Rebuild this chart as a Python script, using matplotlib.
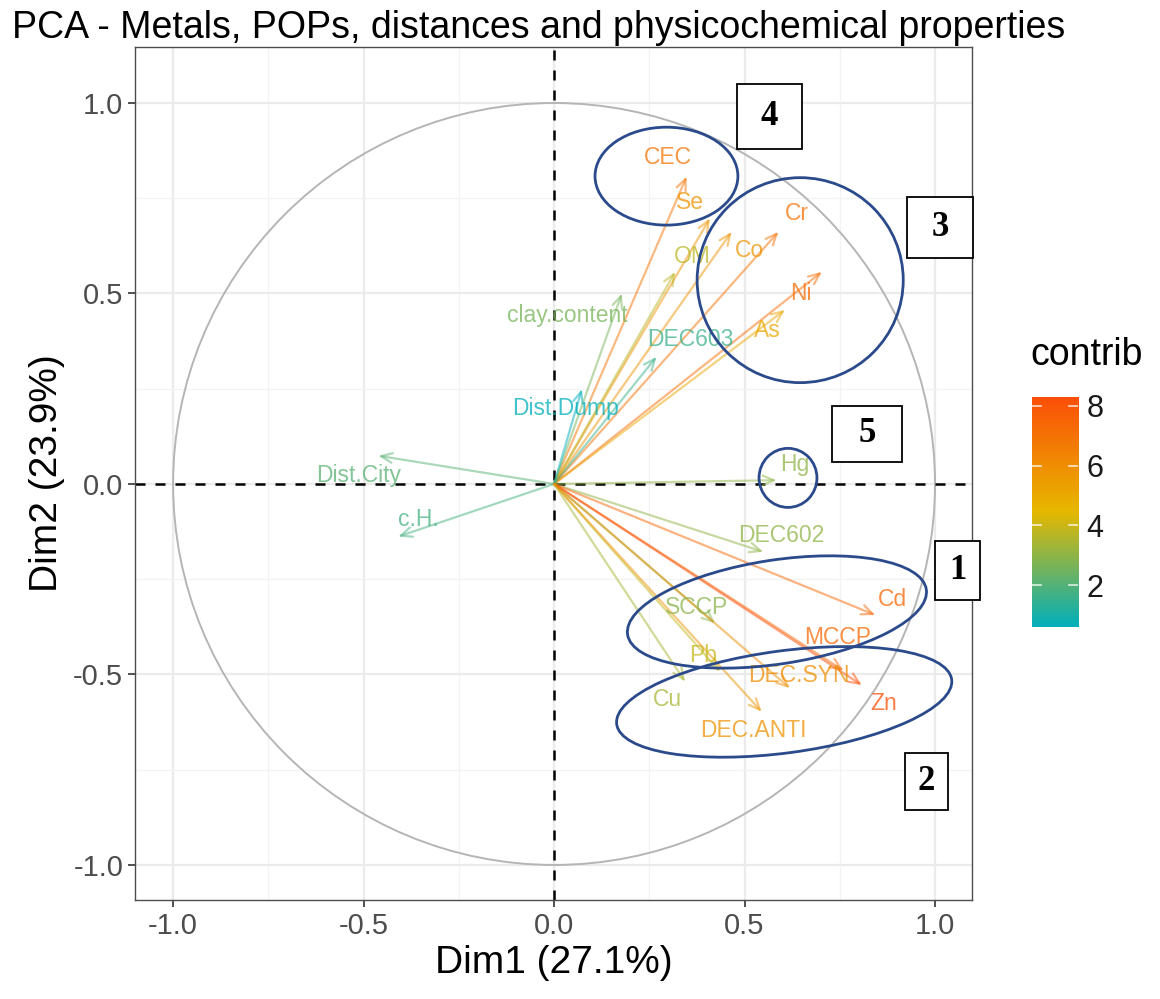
import matplotlib
matplotlib.use("Agg")
import matplotlib.pyplot as plt
from matplotlib.colors import LinearSegmentedColormap, Normalize
from matplotlib.patches import Circle, Ellipse, Rectangle
import numpy as np

plt.rcParams["font.family"] = ["Liberation Sans", "DejaVu Sans"]

# variable coordinates on Dim1 / Dim2 and their contribution (%)
variables = ["CEC", "Se", "OM", "Co", "Cr", "Ni", "As", "clay.content", "DEC603",
             "Dist.Dump", "Dist.City", "c.H.", "Hg", "DEC602", "Cd", "SCCP",
             "MCCP", "Pb", "DEC.SYN", "Zn", "Cu", "DEC.ANTI"]
dim1 = [0.348, 0.409, 0.318, 0.466, 0.589, 0.703, 0.606, 0.178, 0.269,
        0.073, -0.461, -0.409, 0.584, 0.549, 0.843, 0.423,
        0.760, 0.436, 0.619, 0.808, 0.344, 0.545]
dim2 = [0.807, 0.697, 0.557, 0.662, 0.662, 0.557, 0.457, 0.500, 0.334,
        0.249, 0.074, -0.138, 0.010, -0.178, -0.344, -0.366,
        -0.490, -0.493, -0.536, -0.528, -0.519, -0.598]
contrib = [6.9, 5.8, 3.7, 5.8, 7.0, 7.2, 5.1, 2.6, 1.6,
           0.6, 2.1, 1.8, 3.0, 3.0, 7.4, 2.9,
           7.3, 3.9, 6.0, 8.3, 3.4, 5.8]

# where the repelled labels ended up
label_pos = {
    "CEC": (0.299, 0.856), "Se": (0.357, 0.738), "OM": (0.362, 0.598),
    "Co": (0.512, 0.612), "Cr": (0.638, 0.709), "Ni": (0.648, 0.501),
    "As": (0.559, 0.402), "clay.content": (0.034, 0.441), "DEC603": (0.357, 0.378),
    "Dist.Dump": (0.029, 0.199), "Dist.City": (-0.514, 0.021), "c.H.": (-0.357, -0.092),
    "Hg": (0.633, 0.052), "DEC602": (0.596, -0.134), "Cd": (0.887, -0.304),
    "SCCP": (0.375, -0.323), "MCCP": (0.745, -0.402), "Pb": (0.391, -0.451),
    "DEC.SYN": (0.643, -0.504), "Zn": (0.866, -0.577), "Cu": (0.297, -0.567),
    "DEC.ANTI": (0.522, -0.648),
}

# hand-drawn groups: (center, width, height, angle)
groups = [
    ((0.295, 0.808), 0.375, 0.257, 0),
    ((0.646, 0.535), 0.541, 0.538, 0),
    ((0.614, 0.016), 0.152, 0.155, 0),
    ((0.585, -0.336), 0.793, 0.273, 8.6),
    ((0.604, -0.572), 0.887, 0.268, 7.6),
]
# numbered boxes in figure pixels: (label, left, top, right, bottom)
boxes = [("4", 737, 84, 802, 149), ("3", 907, 197, 973, 258),
         ("5", 832, 406, 902, 462), ("1", 935, 541, 980, 600),
         ("2", 905, 753, 948, 810)]

W, H = 1160, 999
fig = plt.figure(figsize=(W / 100, H / 100), dpi=100)
ax = fig.add_axes([135 / W, 1 - 900 / H, (972 - 135) / W, (900 - 47) / H])

cmap = LinearSegmentedColormap.from_list("contrib", ["#00AFBB", "#E7B800", "#FC4E07"])
norm = Normalize(vmin=min(contrib), vmax=max(contrib))

ax.set_xlim(-1.1, 1.097)
ax.set_ylim(-1.092, 1.147)
ax.set_xticks([-1.0, -0.5, 0.0, 0.5, 1.0])
ax.set_yticks([-1.0, -0.5, 0.0, 0.5, 1.0])
ax.set_xticks(np.arange(-1.0, 1.01, 0.25), minor=True)
ax.set_yticks(np.arange(-1.0, 1.01, 0.25), minor=True)
ax.grid(True, which="major", color="#EBEBEB", linewidth=1.6, zorder=0)
ax.grid(True, which="minor", color="#F3F3F3", linewidth=0.9, zorder=0)
ax.set_axisbelow(True)
ax.tick_params(which="minor", length=0)
ax.tick_params(which="major", length=5, width=1.2, color="#333333",
               labelsize=21, labelcolor="#4D4D4D")
ax.set_xticklabels(["-1.0", "-0.5", "0.0", "0.5", "1.0"])
ax.set_yticklabels(["-1.0", "-0.5", "0.0", "0.5", "1.0"])
for s in ax.spines.values():
    s.set_color("#4D4D4D")
    s.set_linewidth(1.0)

ax.add_patch(Circle((0, 0), 1.0, fill=False, edgecolor="#B5B5B5", linewidth=1.4, zorder=1))
ax.axhline(0, color="black", linestyle=(0, (4, 4)), linewidth=1.8, zorder=2)
ax.axvline(0, color="black", linestyle=(0, (4, 4)), linewidth=1.8, zorder=2)

for name, x, y, c in zip(variables, dim1, dim2, contrib):
    col = cmap(norm(c))
    ax.annotate("", xy=(x, y), xytext=(0, 0),
                arrowprops=dict(arrowstyle="->,head_length=0.8,head_width=0.35",
                                color=col, alpha=0.5, linewidth=1.6,
                                shrinkA=0, shrinkB=0), zorder=3)
    lx, ly = label_pos[name]
    ax.text(lx, ly, name, color=col, alpha=0.75, fontsize=16.5,
            ha="center", va="center", zorder=4)

for (cx, cy), w, h, ang in groups:
    ax.add_patch(Ellipse((cx, cy), w, h, angle=ang, fill=False,
                         edgecolor="#2B4A8B", linewidth=2, zorder=5, clip_on=False))

ax.set_xlabel("Dim1 (27.1%)", fontsize=28, labelpad=4)
ax.set_ylabel("Dim2 (23.9%)", fontsize=28, labelpad=6)
fig.text(12 / W, 1 - 28 / H, "PCA - Metals, POPs, distances and physicochemical properties",
         fontsize=27, ha="left", va="center")

for lab, x0, y0, x1, y1 in boxes:
    fig.add_artist(Rectangle((x0 / W, 1 - y1 / H), (x1 - x0) / W, (y1 - y0) / H,
                             transform=fig.transFigure, facecolor="white",
                             edgecolor="black", linewidth=1.3, zorder=10))
    fig.text((x0 + x1) / 2 / W, 1 - (y0 + y1) / 2 / H, lab, fontsize=25,
             fontweight="bold", family=["Liberation Serif", "DejaVu Serif"],
             ha="center", va="center", zorder=11)

# colour bar
cax = fig.add_axes([1031.7 / W, 1 - 627.3 / H, 46.6 / W, 230.6 / H])
grad = np.linspace(norm.vmin, norm.vmax, 256).reshape(-1, 1)
cax.imshow(grad, aspect="auto", cmap=cmap, norm=norm, origin="lower",
           extent=[0, 1, norm.vmin, norm.vmax])
cax.set_xlim(0, 1)
cax.set_ylim(norm.vmin, norm.vmax)
cax.set_xticks([])
cbar_ticks = [2, 4, 6, 8]
cax.set_yticks(cbar_ticks)
cax.yaxis.tick_right()
cax.tick_params(axis="y", length=0, labelsize=22, labelcolor="#1A1A1A", pad=6)
for t in cbar_ticks:
    cax.plot([0, 0.2], [t, t], color="white", linewidth=1.2, alpha=0.8)
    cax.plot([0.8, 1], [t, t], color="white", linewidth=1.2, alpha=0.8)
for s in cax.spines.values():
    s.set_visible(False)
fig.text(1030 / W, 1 - 355 / H, "contrib", fontsize=27, ha="left", va="center")

fig.savefig("out.png", dpi=100)
